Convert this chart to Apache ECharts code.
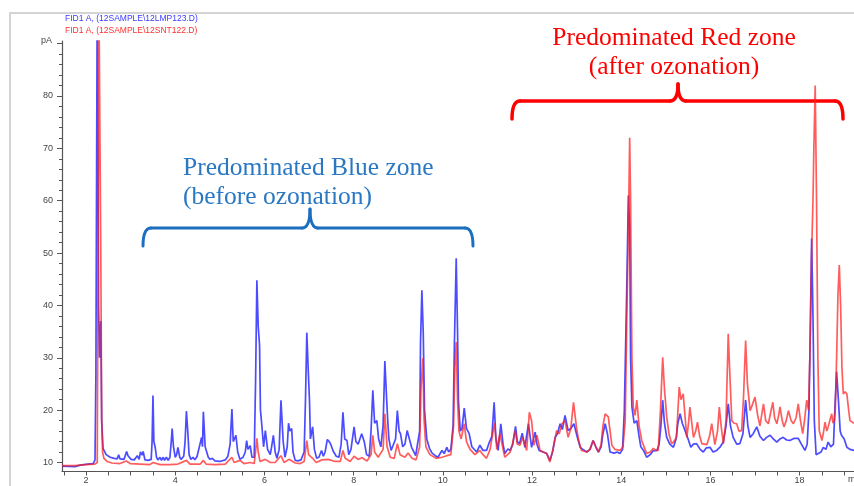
<!DOCTYPE html>
<html>
<head>
<meta charset="utf-8">
<script src="https://cdn.jsdelivr.net/npm/echarts@6/dist/echarts.min.js"></script>
<style>
  html, body { margin: 0; padding: 0; background: #fff; }
  #main { width: 854px; height: 486px; }
</style>
</head>
<body>
<div id="main"></div>
<script>
// series names, as in the instrument's legend
var blueName = 'FID1 A, (12SAMPLE\\12LMP123.D)';
var redName = 'FID1 A, (12SAMPLE\\12SNT122.D)';

// tick labels
var timeLabels = [2, 4, 6, 8, 10, 12, 14, 16, 18];
var timeTicks = [1.5, 2, 2.5, 3, 3.5, 4, 4.5, 5, 5.5, 6, 6.5, 7, 7.5, 8, 8.5, 9, 9.5, 10, 10.5, 11, 11.5, 12, 12.5, 13, 13.5, 14, 14.5, 15, 15.5, 16, 16.5, 17, 17.5, 18, 18.5, 19];
var pALabels = [10, 20, 30, 40, 50, 60, 70, 80];
var pAMajor = [10, 20, 30, 40, 50, 60, 70, 80, 90];
var pAMinor = [10, 12, 14, 16, 18, 20, 22, 24, 26, 28, 30, 32, 34, 36, 38, 40, 42, 44, 46, 48, 50, 52, 54, 56, 58, 60, 62, 64, 66, 68, 70, 72, 74, 76, 78, 80, 82, 84, 86, 88, 90];

// before ozonation (blue)  [min, pA]
var blueTrace = [
  [1.46,9.3],[1.75,9.2],[1.87,9.5],[2.04,9.7],[2.16,9.8],[2.20,10.5],[2.22,26.6],[2.25,100],[2.28,40],[2.30,30],[2.33,37],[2.35,18],[2.38,12.7],[2.45,11.5],[2.54,11.0],[2.63,10.8],[2.70,10.7],[2.73,11.5],[2.76,10.7],[2.85,10.6],[2.91,12.1],[2.94,11.3],[2.98,11.6],[3.01,10.6],[3.08,10.5],[3.15,11.3],[3.19,10.6],[3.22,12.0],[3.26,11.4],[3.28,12.1],[3.32,10.5],[3.39,10.4],[3.46,10.6],[3.48,14],[3.50,22.8],[3.52,14],[3.55,12.9],[3.58,11.0],[3.61,10.5],[3.66,11.0],[3.69,10.4],[3.73,11.0],[3.76,10.4],[3.80,11.0],[3.84,10.4],[3.88,11],[3.91,14],[3.93,16.5],[3.96,13],[4.00,11],[4.03,11.5],[4.06,12.9],[4.10,11],[4.13,10.6],[4.19,11.2],[4.22,14],[4.25,19.8],[4.28,16],[4.31,11.5],[4.35,10.6],[4.40,11.0],[4.44,10.5],[4.49,11.2],[4.53,11.5],[4.59,14.8],[4.61,13],[4.63,19.7],[4.67,13],[4.70,12.9],[4.74,11.0],[4.78,10.6],[4.83,10.8],[4.89,10.3],[5.00,10.2],[5.12,10.5],[5.18,11.2],[5.23,13.5],[5.27,20.2],[5.30,14],[5.36,15.2],[5.40,12],[5.45,10.6],[5.52,11.0],[5.57,12],[5.60,14.2],[5.63,12.5],[5.68,13.2],[5.72,11],[5.77,11],[5.80,25],[5.83,44.8],[5.86,36],[5.89,32.4],[5.91,20],[5.94,17.2],[5.98,13],[6.02,16.1],[6.07,12.5],[6.13,11.5],[6.16,13],[6.20,15.2],[6.24,12],[6.28,10.8],[6.33,12.5],[6.37,21.9],[6.42,14],[6.46,11],[6.51,13],[6.54,17.5],[6.57,16],[6.61,16.5],[6.64,12],[6.69,10.4],[6.75,10.3],[6.82,10.5],[6.89,12],[6.92,22],[6.95,34.8],[6.98,28],[7.01,21.8],[7.03,14.5],[7.08,16.8],[7.12,12.5],[7.17,10.8],[7.22,11.0],[7.28,12.3],[7.32,11.2],[7.36,12],[7.41,14.4],[7.46,13.9],[7.49,13.4],[7.54,12.2],[7.61,11.2],[7.67,11.0],[7.72,13.5],[7.76,19.6],[7.80,14.5],[7.85,14.2],[7.89,11.5],[7.94,12.5],[8.01,16.8],[8.05,14],[8.10,13.5],[8.18,15.5],[8.24,13.9],[8.29,11.5],[8.35,11.2],[8.39,16],[8.43,23.8],[8.47,17.5],[8.52,18.0],[8.56,14.5],[8.61,13.0],[8.66,17],[8.70,29.4],[8.74,22],[8.76,18.7],[8.79,14.5],[8.84,12.3],[8.88,12.2],[8.94,14.5],[8.98,19.9],[9.02,16],[9.05,15.5],[9.10,13.0],[9.15,13.5],[9.20,16.1],[9.25,14.5],[9.30,12.9],[9.34,12.9],[9.39,11.3],[9.43,11.0],[9.48,16],[9.50,33],[9.53,42.9],[9.56,35],[9.59,20],[9.64,14.5],[9.70,12.7],[9.76,11.8],[9.83,11.3],[9.89,11.0],[9.98,12.3],[10.03,11.7],[10.09,12.9],[10.13,12.0],[10.18,12.5],[10.23,17],[10.26,33],[10.30,49],[10.33,35],[10.35,21.9],[10.39,16],[10.43,16.5],[10.48,20.4],[10.53,16.5],[10.59,15.5],[10.65,13.0],[10.76,12.0],[10.83,13.3],[10.90,12.3],[10.98,12.3],[11.04,13.8],[11.10,15],[11.15,21.5],[11.19,14.5],[11.24,12.3],[11.30,17.4],[11.35,13.5],[11.39,11.7],[11.46,12.6],[11.51,12.3],[11.57,13.5],[11.63,16.9],[11.67,14],[11.72,13.6],[11.78,15.6],[11.84,12.9],[11.92,17.4],[11.99,12.9],[12.07,15.8],[12.11,13.5],[12.16,12.3],[12.25,12.0],[12.33,11.7],[12.40,10.4],[12.46,12.0],[12.52,14.8],[12.57,15.5],[12.63,17.4],[12.68,16.3],[12.74,19.0],[12.81,16.1],[12.87,16.5],[12.94,17.4],[13.01,15],[13.08,12.9],[13.14,12.5],[13.23,12.0],[13.30,12.5],[13.37,14.2],[13.43,13],[13.49,12.0],[13.55,13],[13.59,15.5],[13.64,17.4],[13.69,15.5],[13.75,12.0],[13.84,11.8],[13.91,12.0],[13.97,11.7],[14.03,12.5],[14.07,20],[14.10,32.7],[14.13,46],[14.16,61],[14.19,55],[14.21,30],[14.24,20.6],[14.29,17.5],[14.35,18.0],[14.40,15],[14.44,13],[14.50,12.3],[14.57,11.0],[14.65,11.5],[14.71,12.2],[14.80,12.3],[14.85,13.5],[14.89,17],[14.93,21.9],[14.97,17.5],[15.02,14.8],[15.09,13.5],[15.17,12.9],[15.23,14.5],[15.27,17.5],[15.32,19.3],[15.37,17.5],[15.43,16.1],[15.50,14.5],[15.56,12.9],[15.62,13.5],[15.69,13.6],[15.77,12.5],[15.84,12.0],[15.91,12.8],[15.99,12.9],[16.06,12.0],[16.14,12.3],[16.22,13.0],[16.29,13.9],[16.35,17],[16.40,21.2],[16.45,17],[16.51,14.8],[16.59,13.5],[16.66,13.6],[16.73,15.5],[16.79,21.9],[16.84,17],[16.89,14.8],[16.96,15.5],[17.04,16.8],[17.11,15],[17.19,14.2],[17.26,14.8],[17.34,15.2],[17.41,14.5],[17.49,13.9],[17.56,14.5],[17.63,14.8],[17.71,14.3],[17.78,14.2],[17.87,14.6],[17.97,14.6],[18.04,13.5],[18.12,12.3],[18.17,13.5],[18.21,20],[18.24,35],[18.27,52.8],[18.30,38],[18.33,18],[18.37,11.5],[18.41,11.3],[18.48,12.0],[18.53,12.9],[18.59,12.5],[18.64,13.9],[18.70,13.0],[18.76,13.5],[18.79,20],[18.83,27.3],[18.87,22],[18.91,16],[18.94,15.2],[19.00,14.5],[19.06,12.9],[19.13,12.5],[19.22,12.3]
];

// after ozonation (red)  [min, pA]
var redTrace = [
  [1.46,9.4],[1.75,9.4],[1.98,9.6],[2.20,9.7],[2.25,10],[2.27,50],[2.29,96],[2.31,96],[2.33,50],[2.35,18],[2.37,12],[2.40,10.8],[2.47,10.2],[2.58,9.9],[2.76,9.8],[2.90,10.3],[2.99,9.8],[3.21,9.7],[3.43,9.6],[3.50,10.0],[3.66,9.6],[3.88,9.6],[4.06,9.7],[4.25,10.4],[4.33,9.7],[4.56,9.7],[4.63,10.4],[4.69,9.7],[4.89,9.6],[5.12,9.7],[5.27,11.0],[5.32,10.0],[5.45,10.4],[5.54,9.8],[5.68,10.0],[5.77,9.8],[5.80,12],[5.83,14.6],[5.86,12],[5.90,10.2],[6.02,10.6],[6.13,10.0],[6.24,10.0],[6.37,11.3],[6.44,10.0],[6.55,10.6],[6.69,9.9],[6.80,9.8],[6.89,10.2],[6.95,14.2],[6.99,11.5],[7.08,10.8],[7.16,10.0],[7.29,10.5],[7.43,10.6],[7.58,10.2],[7.70,10.2],[7.76,12.3],[7.81,10.8],[7.92,10.2],[8.01,11.2],[8.10,10.6],[8.19,10.9],[8.30,10.3],[8.39,11.5],[8.43,15.2],[8.47,12],[8.55,11.0],[8.66,12.5],[8.70,19.3],[8.75,13],[8.82,11.0],[8.91,10.8],[8.98,13.6],[9.04,11.5],[9.15,11.0],[9.22,11.8],[9.31,10.8],[9.40,10.5],[9.48,13],[9.51,24],[9.55,29.9],[9.58,18],[9.62,13.0],[9.71,11.5],[9.85,10.8],[9.98,11.0],[10.09,11.3],[10.18,11.5],[10.24,17],[10.27,28],[10.30,33],[10.33,22],[10.36,16],[10.41,14.5],[10.48,17.4],[10.53,14],[10.61,12.5],[10.72,11.5],[10.83,12.3],[10.90,11.5],[10.98,10.8],[11.06,12.5],[11.13,16.1],[11.16,17.5],[11.21,12.5],[11.28,15.5],[11.34,13],[11.39,11.0],[11.51,12.0],[11.56,13.5],[11.62,16.1],[11.67,13.5],[11.73,13.3],[11.79,14.8],[11.88,12.3],[11.94,19.6],[11.99,18.0],[12.04,13.3],[12.11,15.2],[12.18,12.3],[12.25,12.0],[12.33,11.7],[12.40,10.1],[12.47,12.5],[12.55,16.1],[12.61,15.5],[12.67,17.4],[12.74,18.0],[12.81,14.8],[12.87,16.5],[12.93,21.5],[13.00,16.5],[13.05,14],[13.11,12.3],[13.23,12.0],[13.30,12.5],[13.37,14.2],[13.43,13],[13.49,12.0],[13.55,13.5],[13.59,17],[13.64,19.3],[13.71,18.7],[13.79,13.3],[13.86,12.5],[13.97,12.3],[14.04,13],[14.09,18],[14.13,40],[14.17,60],[14.19,72],[14.21,60],[14.24,30],[14.27,20.6],[14.31,19],[14.35,21.9],[14.40,17],[14.46,14.2],[14.57,11.7],[14.65,12.0],[14.72,12.7],[14.78,12.3],[14.83,12.3],[14.88,20],[14.93,30.1],[14.97,24],[15.02,18.7],[15.07,15.5],[15.13,13.6],[15.18,14],[15.24,14.8],[15.30,24.4],[15.34,22],[15.39,23.1],[15.47,14.8],[15.51,17.5],[15.54,20.6],[15.62,14.8],[15.67,16],[15.71,17.7],[15.76,15],[15.81,13.6],[15.92,13.4],[15.98,15],[16.03,17.4],[16.10,13.4],[16.16,16],[16.20,20.6],[16.24,17],[16.29,13.6],[16.35,18],[16.38,28],[16.40,34.6],[16.43,28],[16.48,18.0],[16.53,17.5],[16.59,17.4],[16.64,16],[16.70,16.1],[16.74,22],[16.79,33.3],[16.83,25],[16.89,19.9],[16.94,21],[17.00,22.5],[17.06,19],[17.11,17.0],[17.19,21.2],[17.24,18],[17.30,17.4],[17.35,19.5],[17.40,21.5],[17.44,18.5],[17.49,17.4],[17.53,19],[17.56,20.6],[17.61,18],[17.65,16.8],[17.70,18],[17.75,19.9],[17.81,18],[17.86,17.4],[17.92,18.5],[17.97,21.2],[18.02,18],[18.07,15.5],[18.11,18],[18.16,21.9],[18.20,20],[18.23,30],[18.27,50],[18.30,60],[18.32,70],[18.35,82],[18.38,60],[18.41,30],[18.44,16.1],[18.50,14.2],[18.54,16],[18.57,17.7],[18.61,16],[18.64,16.8],[18.68,17],[18.72,19.3],[18.75,17.5],[18.78,18.0],[18.80,20],[18.83,30],[18.86,42],[18.89,47.7],[18.92,40],[18.95,28],[18.98,23.1],[19.02,23.5],[19.06,23.1],[19.10,20],[19.13,18.0],[19.17,17.7],[19.22,17.5]
];

var myChart = echarts.init(document.getElementById('main'));

var serif = '"Liberation Serif", "DejaVu Serif", serif';
var sans = '"Liberation Sans", Arial, sans-serif';
var axisColor = '#555';

// curly bracket made of lines and quadratic curves (pixel layout, not data)
function brace(x1, x2, xc, yh, yb, ytip, r, color, w) {
    var st = { stroke: color, lineWidth: w, fill: null, lineCap: 'round' };
    return [
        { type: 'bezierCurve', shape: { x1: x1, y1: yb, cpx1: x1, cpy1: yh, x2: x1 + r, y2: yh }, style: st, silent: true },
        { type: 'line', shape: { x1: x1 + r, y1: yh, x2: xc - r, y2: yh }, style: st, silent: true },
        { type: 'bezierCurve', shape: { x1: xc - r, y1: yh, cpx1: xc, cpy1: yh, x2: xc, y2: ytip }, style: st, silent: true },
        { type: 'bezierCurve', shape: { x1: xc, y1: ytip, cpx1: xc, cpy1: yh, x2: xc + r, y2: yh }, style: st, silent: true },
        { type: 'line', shape: { x1: xc + r, y1: yh, x2: x2 - r, y2: yh }, style: st, silent: true },
        { type: 'bezierCurve', shape: { x1: x2 - r, y1: yh, cpx1: x2, cpy1: yh, x2: x2, y2: yb }, style: st, silent: true }
    ];
}

var graphics = [
    // frame of the pasted screenshot
    { type: 'polyline', shape: { points: [[10, 486], [10, 13], [854, 13]] }, style: { stroke: '#d4d4d4', lineWidth: 2, fill: null }, silent: true },
    { type: 'text', x: 848, y: 480, style: { text: 'min', fill: '#444', fontSize: 9, fontFamily: sans, align: 'left', verticalAlign: 'middle' } },
    // blue zone
    { type: 'text', x: 183, y: 168, style: { text: 'Predominated Blue zone', fill: '#2b78c2', fontSize: 25.5, fontFamily: serif, align: 'left', verticalAlign: 'middle' } },
    { type: 'text', x: 183, y: 197, style: { text: '(before ozonation)', fill: '#2b78c2', fontSize: 25.5, fontFamily: serif, align: 'left', verticalAlign: 'middle' } },
    // red zone
    { type: 'text', x: 674, y: 38, style: { text: 'Predominated Red zone', fill: '#ff0000', fontSize: 25.5, fontFamily: serif, align: 'center', verticalAlign: 'middle' } },
    { type: 'text', x: 674, y: 67, style: { text: '(after ozonation)', fill: '#ff0000', fontSize: 25.5, fontFamily: serif, align: 'center', verticalAlign: 'middle' } }
]
    .concat(brace(143, 473, 310, 228, 246, 209, 8, '#1c6fc0', 3))
    .concat(brace(512, 843, 678, 101, 119, 84, 8, '#ff0000', 3.5));

myChart.setOption({
    animation: false,
    backgroundColor: '#fff',
    grid: { left: 62, right: 0, top: 41, bottom: 14.5, containLabel: false },
    legend: {
        orient: 'vertical',
        left: 55, top: 9,
        itemWidth: 0, itemHeight: 0, itemGap: 3,
        icon: 'rect',
        selectedMode: false,
        data: [
            { name: blueName, textStyle: { color: '#3a3aff' } },
            { name: redName, textStyle: { color: '#ff3030' } }
        ],
        textStyle: { fontSize: 8.5, fontFamily: sans }
    },
    xAxis: {
        type: 'value',
        min: 1.46, max: 19.22,
        axisLine: { lineStyle: { color: axisColor, width: 1.2 } },
        axisTick: { length: 4, customValues: timeTicks, lineStyle: { color: axisColor } },
        axisLabel: { customValues: timeLabels, color: '#444', fontSize: 9, margin: 5, fontFamily: sans },
        splitLine: { show: false }
    },
    yAxis: [{
        type: 'value',
        min: 8.28, max: 90.5,
        name: 'pA',
        nameLocation: 'end',
        nameGap: 0,
        nameTextStyle: { align: 'right', verticalAlign: 'middle', padding: [0, 10, 0, 0], color: '#444', fontSize: 9, fontFamily: sans },
        axisLine: { show: true, lineStyle: { color: axisColor, width: 1.2 } },
        axisTick: { show: true, length: 5, customValues: pAMajor, lineStyle: { color: axisColor } },
        axisLabel: { customValues: pALabels, color: '#444', fontSize: 9, margin: 9, fontFamily: sans },
        splitLine: { show: false }
    }, {
        type: 'value',
        min: 8.28, max: 90.5,
        position: 'left',
        axisLine: { show: false },
        axisTick: { show: true, length: 3, customValues: pAMinor, lineStyle: { color: axisColor } },
        axisLabel: { show: false },
        splitLine: { show: false }
    }],
    series: [
        {
            name: blueName,
            type: 'line',
            data: blueTrace,
            showSymbol: false,
            lineStyle: { color: 'rgba(30,30,255,0.8)', width: 1.7 },
            itemStyle: { color: '#3a3aff' }
        },
        {
            name: redName,
            type: 'line',
            data: redTrace,
            showSymbol: false,
            lineStyle: { color: 'rgba(255,30,30,0.72)', width: 1.7 },
            itemStyle: { color: '#ff3030' }
        }
    ],
    graphic: graphics
});

window.addEventListener('resize', function () {
    myChart.resize();
});
</script>
</body>
</html>
